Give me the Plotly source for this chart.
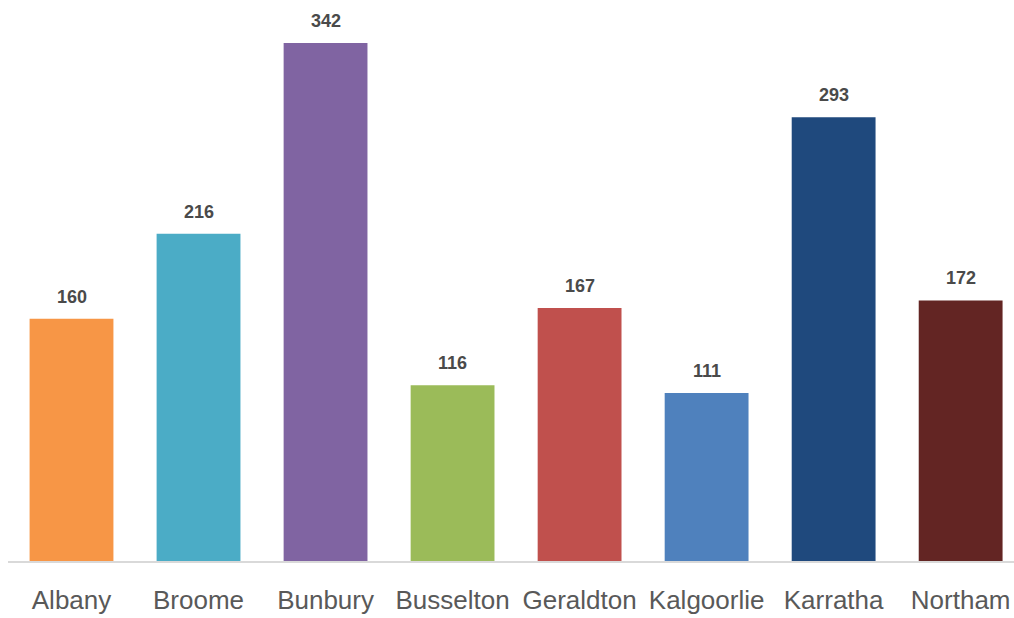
import plotly.graph_objects as go

towns = ["Albany", "Broome", "Bunbury", "Busselton", "Geraldton", "Kalgoorlie", "Karratha", "Northam"]
counts = [160, 216, 342, 116, 167, 111, 293, 172]
bar_colors = ["#F79646", "#4BACC6", "#8064A2", "#9BBB59", "#C0504D", "#4F81BD", "#1F497D", "#632523"]

label_font = "Liberation Sans Narrow, Arial Narrow, Liberation Sans, Arial, sans-serif"

fig = go.Figure(
    go.Bar(
        x=towns,
        y=counts,
        marker=dict(color=bar_colors, line=dict(width=0)),
        hoverinfo="x+y",
    )
)

# value labels above each bar
for town, val in zip(towns, counts):
    fig.add_annotation(
        x=town, y=val, text=f"<b>{val}</b>", showarrow=False,
        yanchor="bottom", yshift=10,
        font=dict(family=label_font, size=18, color="#4a4a4a"),
    )

fig.update_layout(
    width=1014, height=618,
    margin=dict(l=8, r=0, t=0, b=57),
    paper_bgcolor="white", plot_bgcolor="white",
    bargap=0.34,
    showlegend=False,
    xaxis=dict(
        range=[-0.5, 7.42],
        showline=True, linecolor="#d9d9d9", linewidth=2,
        showgrid=False, ticks="", ticklabelstandoff=15,
        tickfont=dict(family=label_font, size=26, color="#595959"),
    ),
    yaxis=dict(
        range=[0, 370.4], visible=False, showgrid=False, zeroline=False,
    ),
)

fig.write_html("out.html")
